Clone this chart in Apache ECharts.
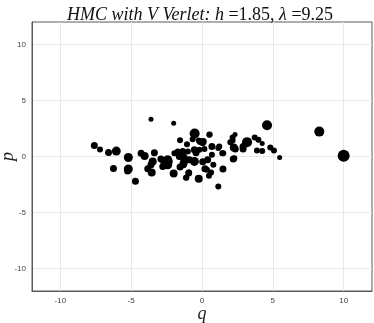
<!DOCTYPE html>
<html>
<head>
<meta charset="utf-8">
<script src="https://cdn.jsdelivr.net/npm/echarts@6/dist/echarts.min.js"></script>
<style>
  html, body { margin: 0; padding: 0; background: #fff; }
  #main { width: 374px; height: 323px; }
</style>
</head>
<body>
<div id="main"></div>
<script>
// samples (q, p) and marker weight
var qVals = [-7.6, -7.2, -6.6, -6.05, -6.25, -5.2, -5.2, -5.25, -4.7, -3.6,
             -4.3, -4.05, -3.36, -3.48, -3.6, -3.83, -3.55, -2.0, -2.9, -2.67,
             -2.42, -2.77, -2.42, -2.0, -1.55, -1.13, -1.06, -0.52, -0.23, 4.59,
             8.28, 10.0, 5.48, 5.08, 4.82, 4.25, 3.88, 4.25, 3.98, 3.72,
             3.18, 2.9, 2.9, 2.33, 2.16, 2.0, 2.24, 2.35, 2.21, 1.48,
             1.15, 1.43, 1.15, 0.7, 0.54, 0.7, 0.64, 0.49, 0.21, 0.4,
             0.05, 0.09, -0.12, -1.1, -0.92, -0.66, -0.54, -0.42, -0.54, -1.36,
             -1.3, -1.3, -1.6, -1.25, -0.9, -1.55, -1.32, -0.94, 0.35, 0.8,
             2.16, 2.28, -0.23, 0.05, 0.52, 1.22, 1.5, 0.17, -0.19, -1.0,
             -1.71, -1.95, -2.42];
var pVals = [0.98, 0.62, 0.35, 0.48, -1.07, -0.09, -1.12, -1.3, -2.2, 3.33,
             0.3, 0.05, 0.33, -0.44, -0.74, -1.1, -1.42, 2.97, -0.23, -0.44,
             -0.29, -0.89, -0.74, -1.52, 1.46, -1.9, 1.1, 2.05, -1.98, 2.79,
             2.22, 0.06, -0.09, 0.53, 0.8, 0.5, 0.53, 1.16, 1.49, 1.69,
             1.28, 0.66, 0.89, 1.96, 1.69, 1.28, 0.8, 0.66, -0.23, -1.12,
             -2.67, 0.3, 0.75, 0.89, 1.96, 0.15, -1.42, -1.72, -1.09, -0.29,
             -0.47, 1.33, 1.33, -1.87, -1.42, 1.55, 0.6, 0.33, -0.44, 0.44,
             -0.1, -0.6, 0.0, -0.15, -0.29, -0.94, -0.74, -1.48, -1.18, -0.74,
             1.42, -0.15, 1.42, 1.19, 1.93, 0.89, 0.3, 0.66, 0.6, 0.44,
             0.44, 0.3, -0.44];
var weightVals = [7, 6, 7, 9, 7, 9, 9, 7, 7, 5,
                  7, 8, 7, 8, 7, 7, 8, 5, 7, 8,
                  9, 7, 9, 8, 6, 6, 6, 10, 8, 10,
                  10, 12, 5, 6, 6, 6, 6, 5, 6, 6,
                  10, 7, 7, 5, 6, 6, 8, 7, 7, 7,
                  6, 6, 6, 7, 6, 6, 6, 6, 7, 7,
                  7, 7, 7, 6, 6, 6, 7, 7, 9, 7,
                  8, 8, 7, 7, 7, 7, 7, 7, 6, 6,
                  6, 6, 6, 6, 6, 6, 6, 6, 6, 6,
                  6, 6, 10];
var tickVals = [-10, -5, 0, 5, 10];

var points = qVals.map(function (q, i) { return [q, pVals[i], weightVals[i]]; });

var serif = '"Liberation Serif", "DejaVu Serif", serif';
var axisBase = {
    type: 'value', min: -12, max: 12,
    axisLine: { show: true, onZero: false, lineStyle: { color: '#5a5a5a', width: 1 } },
    axisTick: { show: false, customValues: tickVals },
    axisLabel: { customValues: tickVals, fontSize: 8, color: '#444', fontFamily: 'Liberation Sans, sans-serif', margin: 6 },
    splitLine: { show: true, lineStyle: { color: '#e8e8e8', width: 1 } },
    nameLocation: 'middle',
    nameMoveOverlap: false,
    nameTextStyle: { fontFamily: serif, fontStyle: 'italic', fontSize: 18, color: '#222' }
};

var chart = echarts.init(document.getElementById('main'));
chart.setOption({
    animation: false,
    title: {
        text: '{i|HMC with V Verlet: h }{n|=1.85, }{i|λ }{n|=9.25}',
        left: 195,
        textAlign: 'center',
        top: 1,
        textStyle: {
            rich: {
                i: { fontFamily: serif, fontStyle: 'italic', fontWeight: 'normal', fontSize: 18, color: '#111' },
                n: { fontFamily: serif, fontWeight: 'normal', fontSize: 18, color: '#111' }
            }
        }
    },
    grid: {
        left: 32, right: 2, top: 22, bottom: 32,
        containLabel: false, outerBoundsMode: 'none',
        show: true, borderColor: '#5a5a5a', borderWidth: 1
    },
    xAxis: Object.assign({}, axisBase, { name: 'q', nameGap: 14 }),
    yAxis: Object.assign({}, axisBase, { name: 'p', nameGap: 15, nameRotate: 90 }),
    series: [{
        type: 'scatter',
        data: points,
        symbolSize: function (d) { return d[2]; },
        itemStyle: { color: '#000', opacity: 1 }
    }]
});
</script>
</body>
</html>
